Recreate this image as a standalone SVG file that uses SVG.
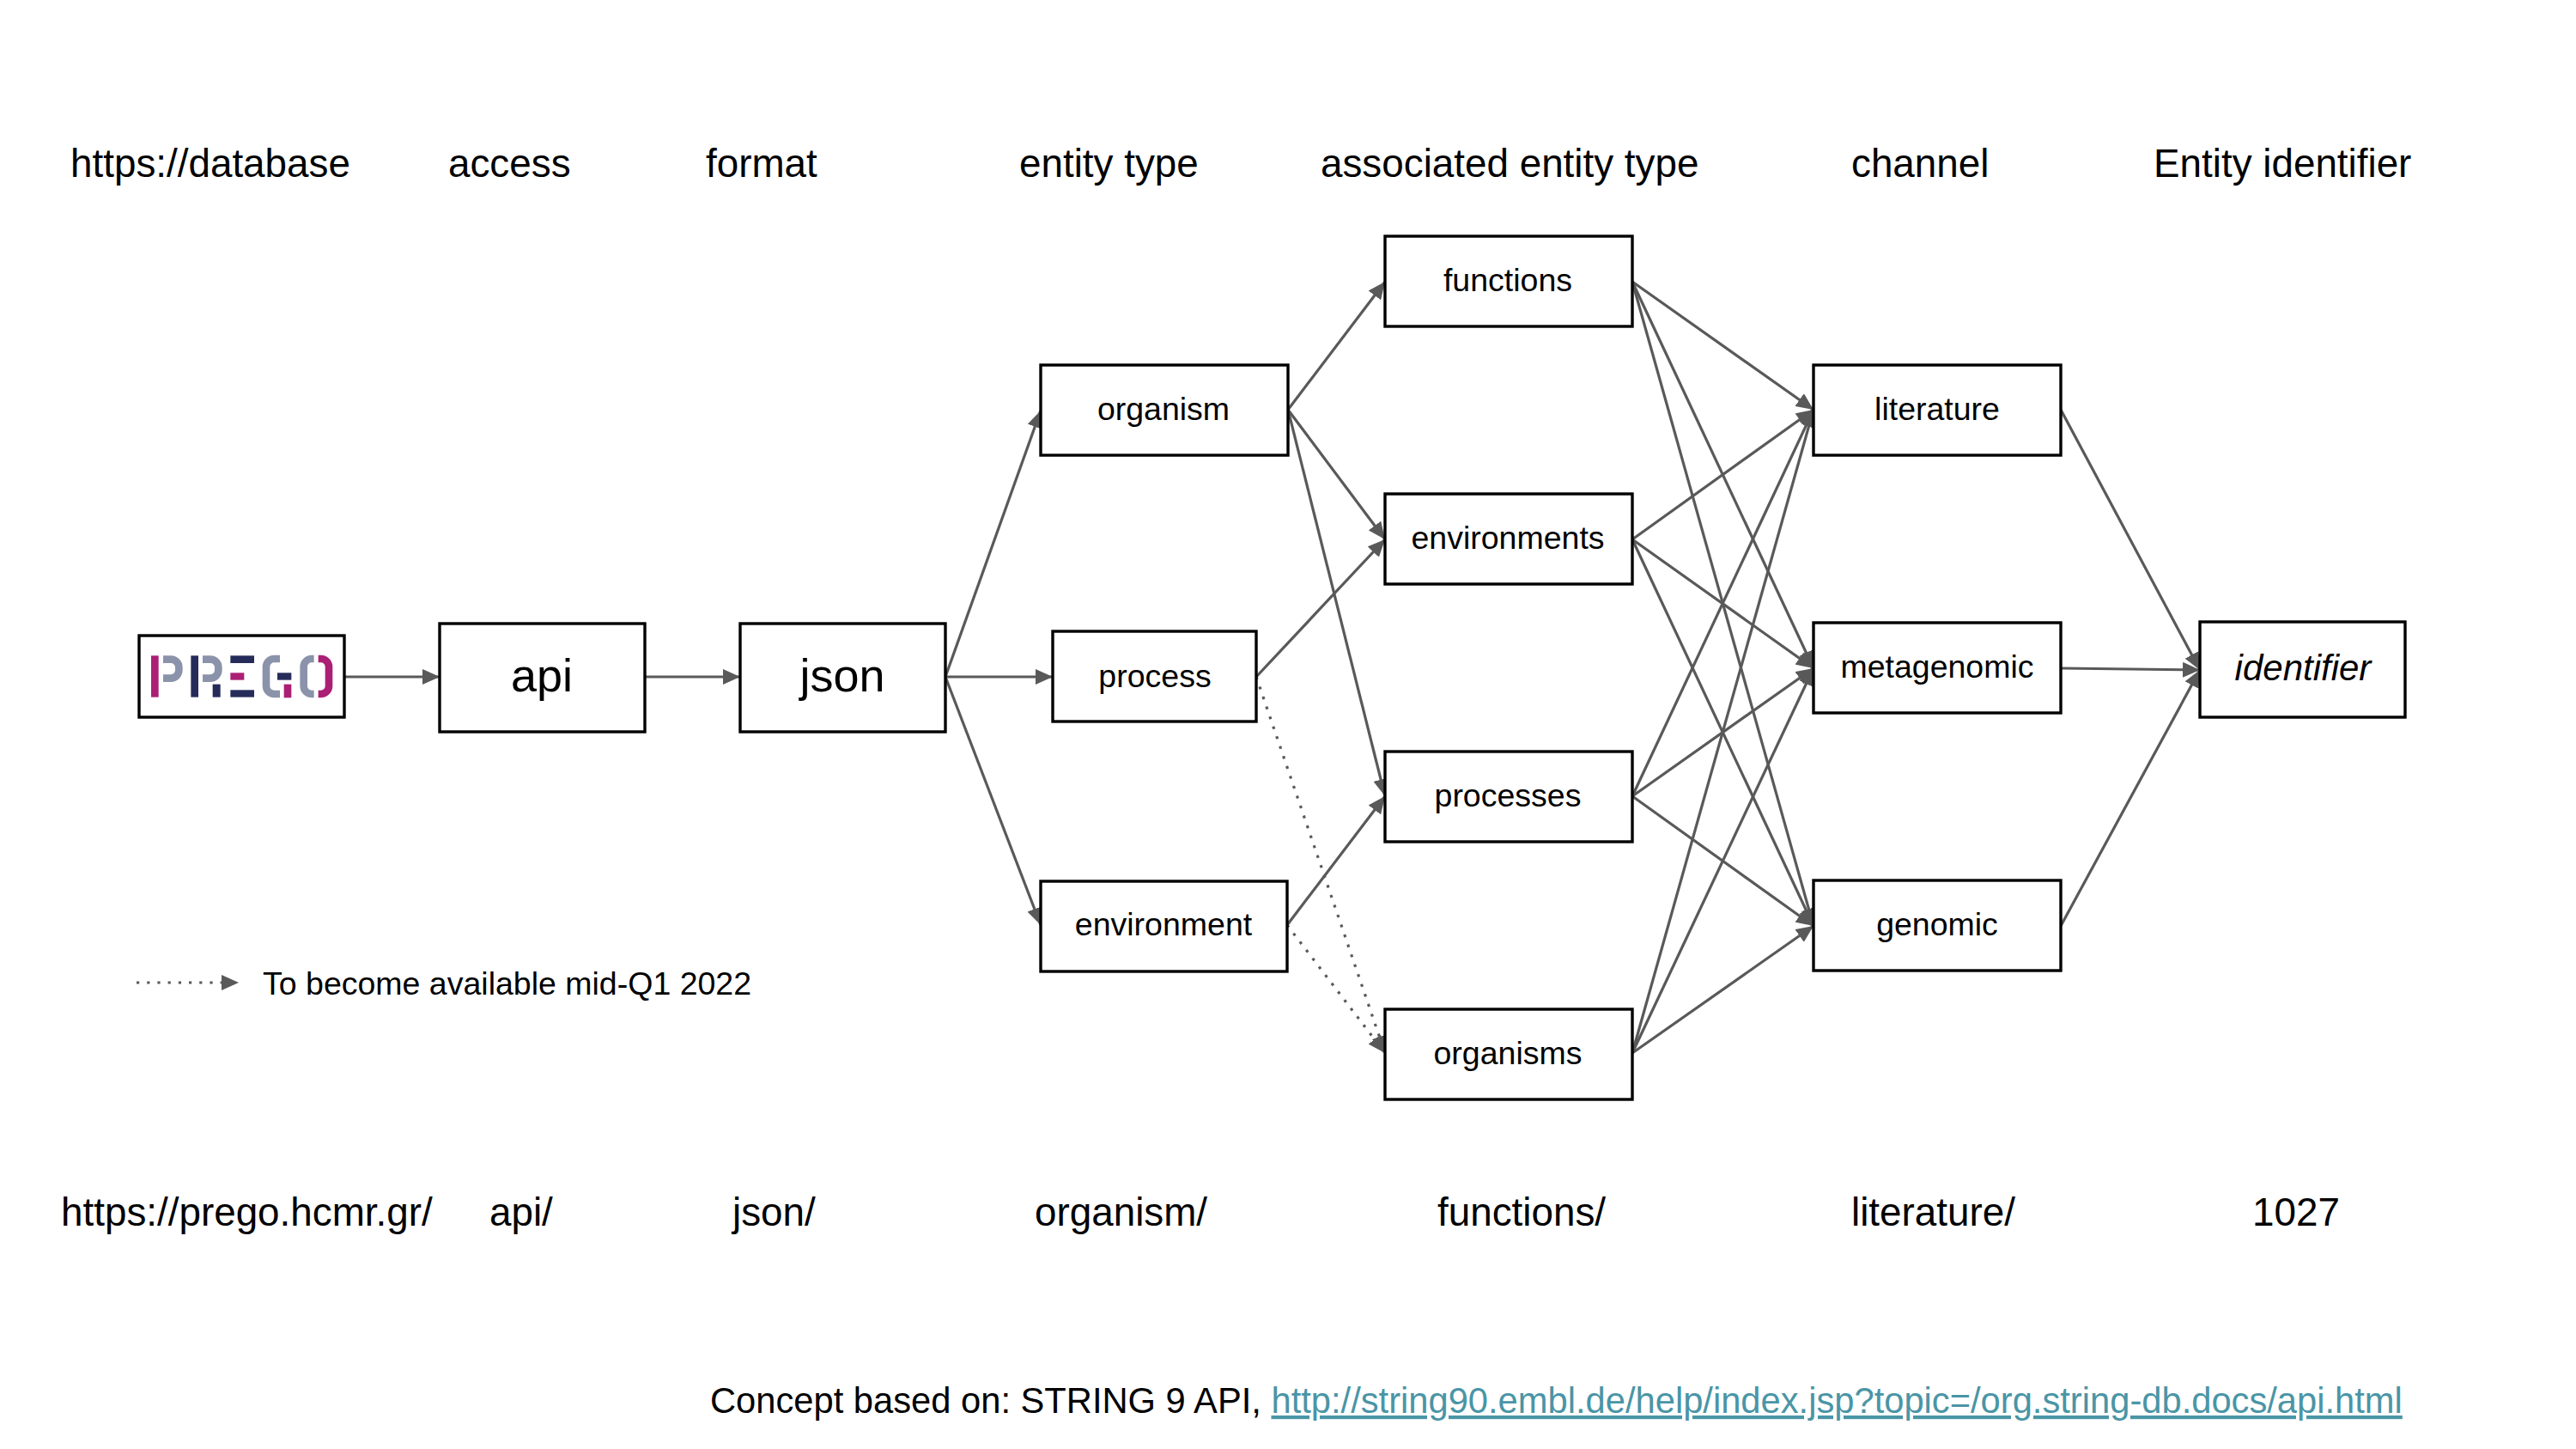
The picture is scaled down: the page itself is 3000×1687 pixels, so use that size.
<svg xmlns="http://www.w3.org/2000/svg" width="3000" height="1687" viewBox="0 0 3000 1687">
<style>
text{font-family:"Liberation Sans",Arial,sans-serif;fill:#000}
.h{font-size:45.8px}
.n{font-size:37.5px;text-anchor:middle}
.i{font-size:42px;font-style:italic}
.b{font-size:54px;text-anchor:middle}
.box{fill:#fff;stroke:#000;stroke-width:3.4}
.c{fill:none;stroke:#595959;stroke-width:3.2;marker-end:url(#a)}
.d{fill:none;stroke:#595959;stroke-width:3.2;stroke-dasharray:3.2 9;marker-end:url(#a)}
.m{fill:#ab1f75}.v{fill:#252c5a}.g{fill:#8b93ab}
.gs{fill:none;stroke:#8b93ab;stroke-width:26}
.ms{fill:none;stroke:#ab1f75;stroke-width:26}
</style>
<defs>
<marker id="a" markerUnits="userSpaceOnUse" markerWidth="21" markerHeight="18" refX="20" refY="9" orient="auto"><path d="M0 0L20 9L0 18z" fill="#595959"/></marker>
<clipPath id="c1"><rect x="150" y="120" width="80" height="110"/></clipPath>
<clipPath id="c2"><rect x="288" y="120" width="80" height="110"/></clipPath>
<clipPath id="c3"><rect x="490" y="120" width="68" height="170"/></clipPath>
<clipPath id="c4"><rect x="620" y="120" width="57" height="170"/></clipPath>
<clipPath id="c5"><rect x="692" y="120" width="57" height="170"/></clipPath>
</defs>
<rect width="3000" height="1687" fill="#fff"/>
<g id="connectors">
<path class="c" d="M401 788L512 788"/>
<path class="c" d="M751 788L862 788"/>
<path class="c" d="M1101 788L1212 478"/>
<path class="c" d="M1101 788L1226 788"/>
<path class="c" d="M1101 788L1212 1077"/>
<path class="c" d="M1500 477L1613 328"/>
<path class="c" d="M1500 477L1613 628"/>
<path class="c" d="M1500 477L1613 927"/>
<path class="c" d="M1463 788L1613 628"/>
<path class="d" d="M1463 788L1613 1226"/>
<path class="c" d="M1499 1077L1613 927"/>
<path class="d" d="M1499 1077L1613 1226"/>
<path class="c" d="M1901 328L2112 477"/>
<path class="c" d="M1901 328L2112 778"/>
<path class="c" d="M1901 328L2112 1078"/>
<path class="c" d="M1901 628L2112 477"/>
<path class="c" d="M1901 628L2112 778"/>
<path class="c" d="M1901 628L2112 1078"/>
<path class="c" d="M1901 927L2112 477"/>
<path class="c" d="M1901 927L2112 778"/>
<path class="c" d="M1901 927L2112 1078"/>
<path class="c" d="M1901 1226L2112 477"/>
<path class="c" d="M1901 1226L2112 778"/>
<path class="c" d="M1901 1226L2112 1078"/>
<path class="c" d="M2400 477L2562 780"/>
<path class="c" d="M2400 778L2562 780"/>
<path class="c" d="M2400 1078L2562 780"/>
<path class="d" d="M159 1144L278 1144"/>
</g>
<g id="prego"><rect class="box" x="162" y="740" width="239" height="95"/>
<g transform="translate(140 720) scale(.33333)">
<rect class="m" x="108" y="130" width="26" height="145"/>
<rect class="gs" x="125" y="143" width="80" height="66" rx="28" clip-path="url(#c1)"/>
<rect class="v" x="247" y="130" width="26" height="145"/>
<rect class="gs" x="263" y="143" width="80" height="66" rx="28" clip-path="url(#c2)"/>
<rect class="v" x="323" y="230" width="27" height="45"/>
<rect class="v" x="385" y="130" width="83" height="26"/>
<rect class="m" x="385" y="190" width="48" height="25"/>
<rect class="v" x="385" y="250" width="83" height="25"/>
<rect class="gs" x="510" y="141" width="90" height="123" rx="28" clip-path="url(#c3)"/>
<rect class="v" x="549" y="190" width="49" height="25"/>
<rect class="m" x="572" y="230" width="26" height="47"/>
<rect class="gs" x="641" y="141" width="88" height="123" rx="28" clip-path="url(#c4)"/>
<rect class="ms" x="641" y="141" width="88" height="123" rx="28" clip-path="url(#c5)"/>
</g></g>
<g id="api"><rect class="box" x="512" y="726" width="239" height="126"/><text class="b" x="631" y="805">api</text></g>
<g id="json"><rect class="box" x="862" y="726" width="239" height="126"/><text class="b" x="981" y="805">json</text></g>
<g id="organism"><rect class="box" x="1212" y="425" width="288" height="105"/><text class="n" x="1355" y="489">organism</text></g>
<g id="process"><rect class="box" x="1226" y="735" width="237" height="105"/><text class="n" x="1345" y="800">process</text></g>
<g id="environment"><rect class="box" x="1212" y="1026" width="287" height="105"/><text class="n" x="1355" y="1089">environment</text></g>
<g id="functions"><rect class="box" x="1613" y="275" width="288" height="105"/><text class="n" x="1756" y="339">functions</text></g>
<g id="environments"><rect class="box" x="1613" y="575" width="288" height="105"/><text class="n" x="1756" y="639">environments</text></g>
<g id="processes"><rect class="box" x="1613" y="875" width="288" height="105"/><text class="n" x="1756" y="939">processes</text></g>
<g id="organisms"><rect class="box" x="1613" y="1175" width="288" height="105"/><text class="n" x="1756" y="1239">organisms</text></g>
<g id="literature"><rect class="box" x="2112" y="425" width="288" height="105"/><text class="n" x="2256" y="489">literature</text></g>
<g id="metagenomic"><rect class="box" x="2112" y="725" width="288" height="105"/><text class="n" x="2256" y="789">metagenomic</text></g>
<g id="genomic"><rect class="box" x="2112" y="1025" width="288" height="105"/><text class="n" x="2256" y="1089">genomic</text></g>
<g id="identifier"><rect class="box" x="2562" y="724" width="239" height="111"/><text class="n i" x="2682" y="792">identifier</text></g>
<g id="labels">
<text class="h" x="82" y="206">https://database</text>
<text class="h" x="522" y="206">access</text>
<text class="h" x="822" y="206">format</text>
<text class="h" x="1187" y="206">entity type</text>
<text class="h" x="1538" y="206">associated entity type</text>
<text class="h" x="2156" y="206">channel</text>
<text class="h" x="2508" y="206">Entity identifier</text>
<text class="h" x="71" y="1427">https://prego.hcmr.gr/</text>
<text class="h" x="570" y="1427">api/</text>
<text class="h" x="853" y="1427">json/</text>
<text class="h" x="1205" y="1427">organism/</text>
<text class="h" x="1674" y="1427">functions/</text>
<text class="h" x="2156" y="1427">literature/</text>
<text class="h" x="2623" y="1427">1027</text>
<text x="306" y="1158" font-size="37.5">To become available mid-Q1 2022</text>
<text x="827" y="1645" font-size="41.7">Concept based on: STRING 9 API, <tspan fill="#4a95a6" text-decoration="underline">http://string90.embl.de/help/index.jsp?topic=/org.string-db.docs/api.html</tspan></text>
</g>
</svg>
